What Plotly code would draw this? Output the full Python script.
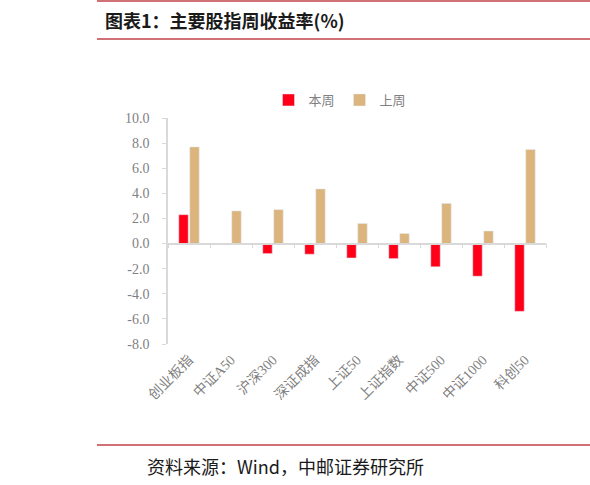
import plotly.graph_objects as go

# index names and weekly returns (%)
indices = ['创业板指', '中证A50', '沪深300', '深证成指', '上证50', '上证指数', '中证500', '中证1000', '科创50']
this_week = [2.3, -0.1, -0.8, -0.85, -1.15, -1.2, -1.85, -2.6, -5.4]
last_week = [7.7, 2.6, 2.7, 4.35, 1.6, 0.8, 3.2, 1.0, 7.5]
y_ticks = [10, 8, 6, 4, 2, 0, -2, -4, -6, -8]

RED = '#FF0018'
TAN = '#DBB47E'
GREY_TXT = '#7F7F7F'
AXIS = '#D9D9D9'
LINE_RED = '#C0404A'
tick_font = dict(family='Liberation Serif, Noto Sans CJK SC', size=14, color=GREY_TXT)

fig = go.Figure()
fig.add_trace(go.Bar(x=indices, y=this_week, name='本周', marker_color=RED))
fig.add_trace(go.Bar(x=indices, y=last_week, name='上周', marker_color=TAN))
# carrier for the zero-level category axis (ticks between categories)
fig.add_trace(go.Scatter(x=indices, y=[None] * len(indices), xaxis='x2', showlegend=False,
                         hoverinfo='skip', mode='lines'))

W, H = 590, 485
ml, mr, mt, mb = 168, 44, 118, 141
zero_pos = 8 / 18


def px_x(v):
    return (v - ml) / (W - ml - mr)


def px_y(v):
    return (H - mb - v) / (H - mt - mb)


fig.update_layout(
    width=W, height=H,
    margin=dict(l=ml, r=mr, t=mt, b=mb),
    paper_bgcolor='white', plot_bgcolor='white',
    barmode='group', bargap=0.476, bargroupgap=0.14,
    font=dict(family='Noto Sans CJK SC', color=GREY_TXT),
    legend=dict(orientation='h', x=px_x(340), xanchor='center', y=px_y(100),
                yanchor='middle', font=dict(family='Noto Sans CJK SC', size=13, color=GREY_TXT),
                itemwidth=30, traceorder='normal'),
    xaxis=dict(type='category', showline=False, ticks='', tickangle=-45,
               tickfont=tick_font, showgrid=False, ticklabelstandoff=4),
    xaxis2=dict(type='category', overlaying='x', matches='x', anchor='free', position=zero_pos,
                showline=True, linecolor=AXIS, linewidth=1.5, ticks='outside', tickson='boundaries',
                ticklen=4, tickcolor=AXIS, showticklabels=False, showgrid=False),
    yaxis=dict(range=[-8, 10], tickvals=y_ticks, ticktext=[f'{v:.1f}' for v in y_ticks],
               showline=True, linecolor=AXIS, linewidth=1.5, ticks='outside', ticklen=4,
               tickcolor=AXIS, showgrid=False, zeroline=False, tickfont=tick_font,
               ticklabelstandoff=10),
    showlegend=True,
)


# header / footer rules and texts
def hline(ypx, width=1.5):
    fig.add_shape(type='line', xref='paper', yref='paper',
                  x0=px_x(97), x1=px_x(W), y0=px_y(ypx), y1=px_y(ypx),
                  line=dict(color=LINE_RED, width=width))


hline(1)
hline(39)
hline(445)

fig.add_annotation(text='<b>图表1：主要股指周收益率(%)</b>', xref='paper', yref='paper',
                   x=px_x(103), y=px_y(20), xanchor='left', yanchor='middle', showarrow=False,
                   font=dict(family='Noto Sans CJK SC', size=18, color='#1a1a1a'))
fig.add_annotation(text='资料来源：Wind，中邮证券研究所', xref='paper', yref='paper',
                   x=px_x(145), y=px_y(466), xanchor='left', yanchor='middle', showarrow=False,
                   font=dict(family='Noto Sans CJK SC', size=18, color='#1a1a1a'))

fig.write_html('out.html', config={'displayModeBar': False},
               post_script="document.body.style.margin='0';")
